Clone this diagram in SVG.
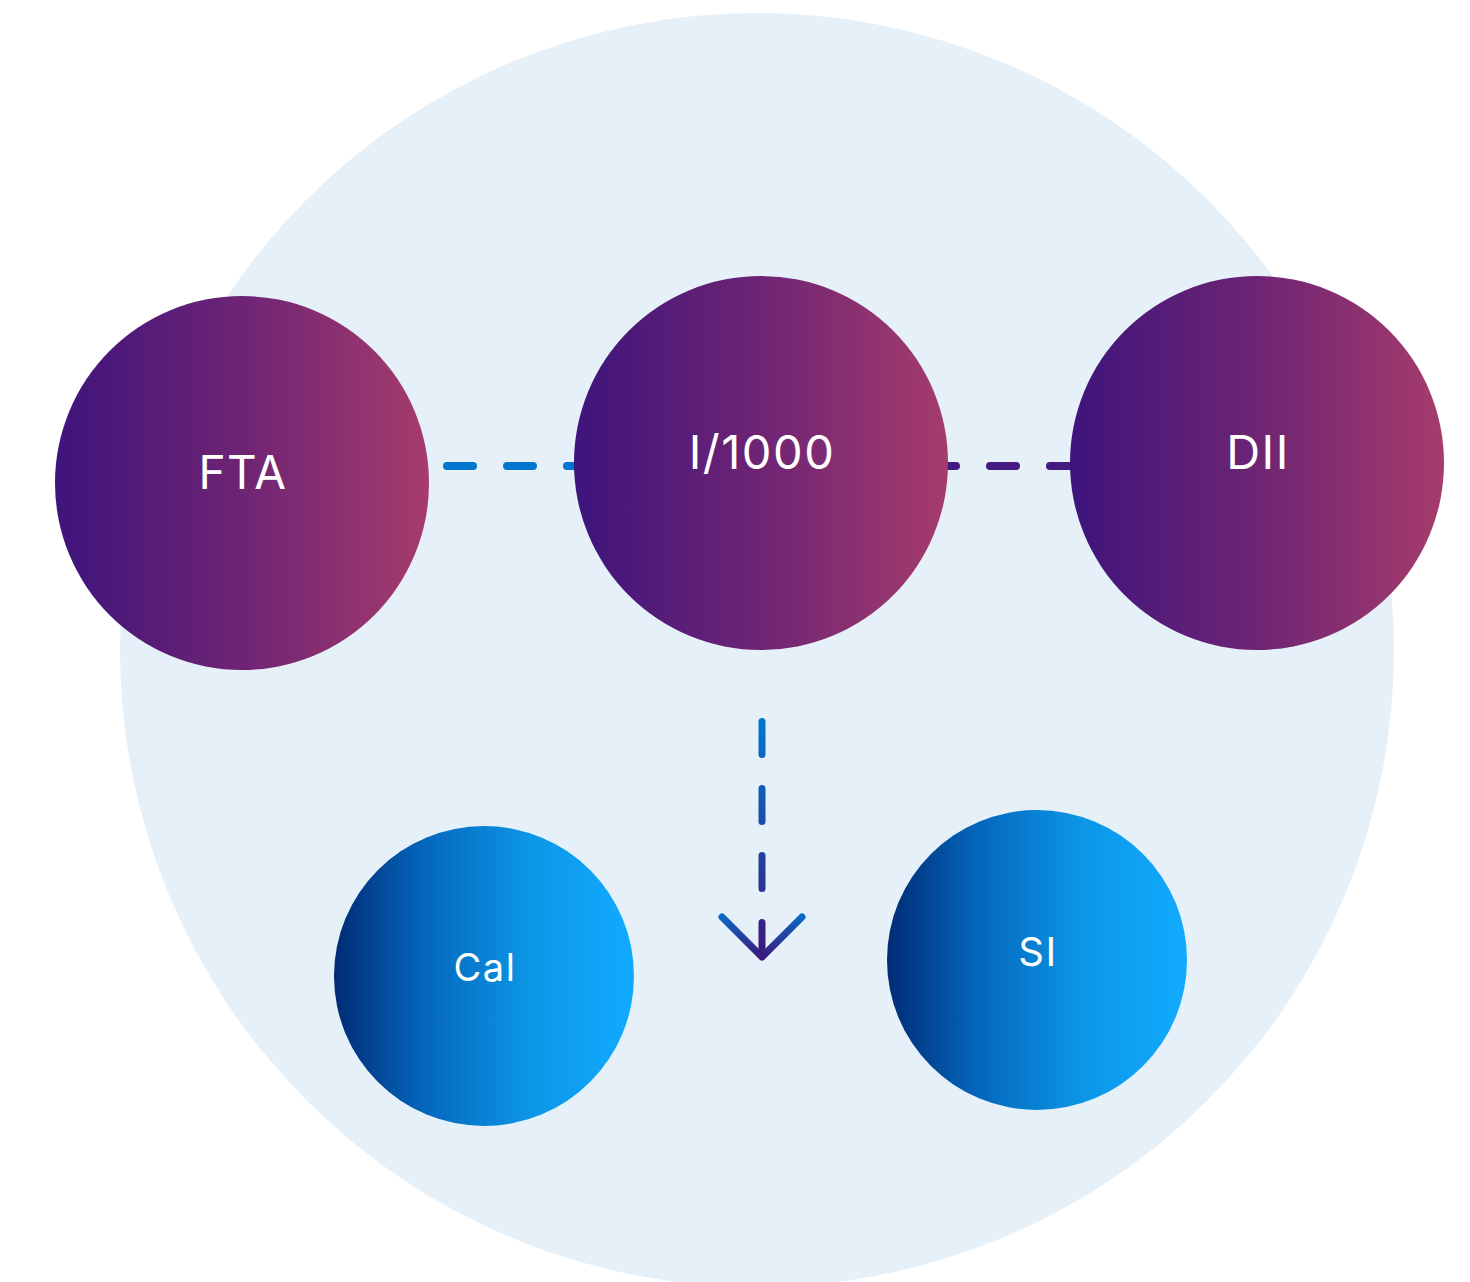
<svg xmlns="http://www.w3.org/2000/svg" width="1470" height="1282" viewBox="0 0 1470 1282">
  <defs>
    <linearGradient id="purple" x1="0" y1="0" x2="1" y2="0">
      <stop offset="0" stop-color="#3E147C"/>
      <stop offset="0.5" stop-color="#6E2474"/>
      <stop offset="1" stop-color="#A63C6C"/>
    </linearGradient>
    <linearGradient id="blue" x1="0" y1="0" x2="1" y2="0">
      <stop offset="0" stop-color="#002C74"/>
      <stop offset="0.3" stop-color="#0466BC"/>
      <stop offset="0.65" stop-color="#0C96E6"/>
      <stop offset="1" stop-color="#12ABFF"/>
    </linearGradient>
    <linearGradient id="stemGrad" gradientUnits="userSpaceOnUse" x1="0" y1="718" x2="0" y2="958">
      <stop offset="0" stop-color="#0078CF"/>
      <stop offset="1" stop-color="#3D167B"/>
    </linearGradient>
    <linearGradient id="headGrad" gradientUnits="userSpaceOnUse" x1="0" y1="915" x2="0" y2="958">
      <stop offset="0" stop-color="#0A6CC6"/>
      <stop offset="1" stop-color="#3D167B"/>
    </linearGradient>
  </defs>
  <style>
    .node-text { font-family: Inter, "Open Sans", "Liberation Sans", sans-serif; fill: #ffffff; text-anchor: middle; letter-spacing: 1.5px; }
    .dash { fill: none; stroke-width: 8; stroke-linecap: round; stroke-dasharray: 26 34; }
  </style>

  <!-- backdrop -->
  <circle cx="757" cy="650" r="637" fill="#E6F0F9"/>

  <!-- connectors -->
  <g id="connectors">
    <line class="dash" x1="447" y1="466" x2="585" y2="466" stroke="#0077CC"/>
    <line class="dash" x1="930" y1="466" x2="1080" y2="466" stroke="#431A7D"/>
    <line x1="762" y1="721.5" x2="762" y2="955.5" fill="none" stroke="url(#stemGrad)" stroke-width="7" stroke-linecap="round" stroke-dasharray="33 34"/>
    <polyline points="722,917 762,957 802,917" fill="none" stroke="url(#headGrad)" stroke-width="7" stroke-linecap="round" stroke-linejoin="round"/>
  </g>

  <g id="node-fta">
    <circle cx="242" cy="483" r="187" fill="url(#purple)"/>
    <text class="node-text" x="243" y="489" font-size="46">FTA</text>
  </g>
  <g id="node-i1000">
    <circle cx="761" cy="463" r="187" fill="url(#purple)"/>
    <text class="node-text" x="762" y="469" font-size="47">I/1000</text>
  </g>
  <g id="node-dii">
    <circle cx="1257" cy="463" r="187" fill="url(#purple)"/>
    <text class="node-text" x="1258" y="469" font-size="47">DII</text>
  </g>
  <g id="node-cal">
    <circle cx="484" cy="976" r="150" fill="url(#blue)"/>
    <text class="node-text" x="485" y="981" font-size="38">Cal</text>
  </g>
  <g id="node-si">
    <circle cx="1037" cy="960" r="150" fill="url(#blue)"/>
    <text class="node-text" x="1038" y="966" font-size="40">SI</text>
  </g>
</svg>
